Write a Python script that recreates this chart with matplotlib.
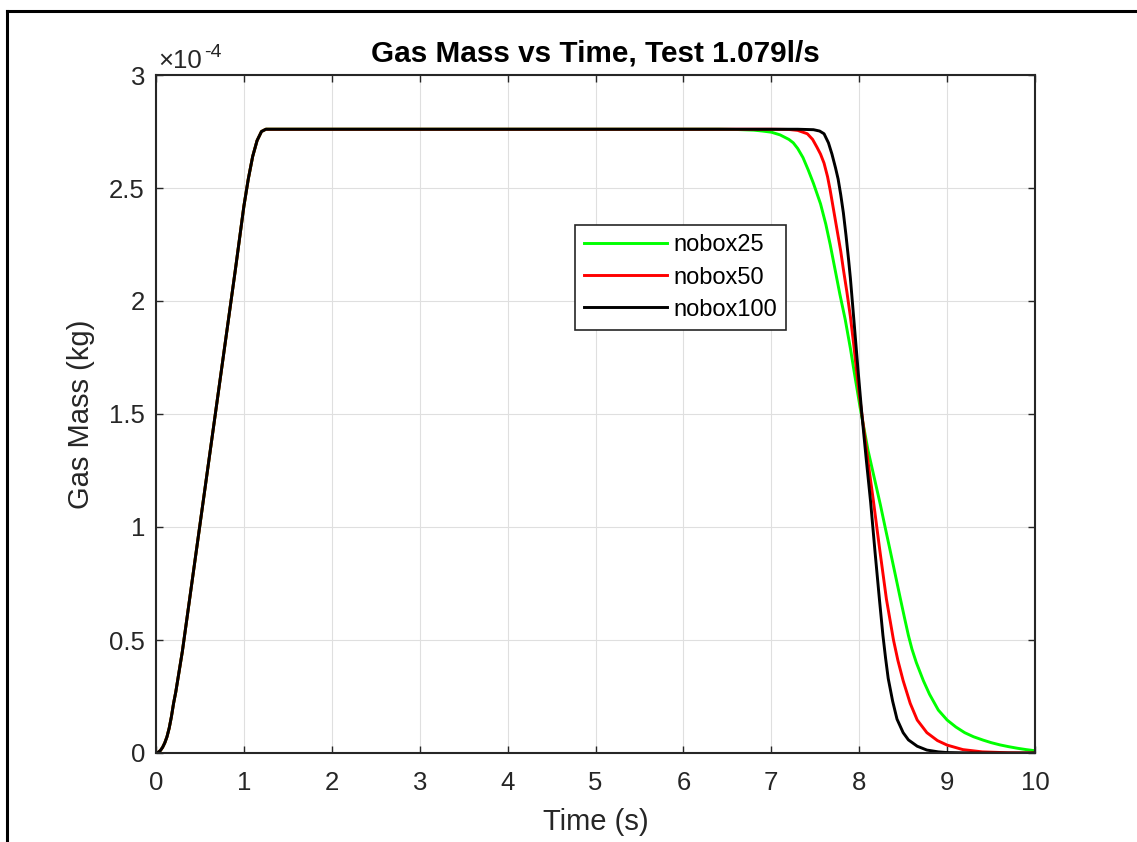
import matplotlib
matplotlib.use("Agg")
import matplotlib.pyplot as plt
from matplotlib.ticker import FuncFormatter, MultipleLocator
from matplotlib.lines import Line2D

plt.rcParams["font.family"] = ["Liberation Sans", "DejaVu Sans"]

# gas mass in units of 1e-4 kg
t_rise = [0, 0.025, 0.05, 0.075, 0.1, 0.125, 0.15, 0.175, 0.2, 0.225, 0.25,
          0.3, 0.35, 0.4, 0.5, 0.6, 0.7, 0.8, 0.9, 1.0, 1.05, 1.1, 1.15, 1.2,
          1.25, 1.3]
m_rise = [0, 0.003, 0.011, 0.025, 0.045, 0.072, 0.11, 0.16, 0.22, 0.27, 0.33,
          0.45, 0.59, 0.73, 1.01, 1.29, 1.57, 1.85, 2.13, 2.42, 2.54, 2.64,
          2.71, 2.75, 2.76, 2.76]

t_fall_25 = [6.4, 6.6, 6.8, 6.9, 7.0, 7.1, 7.2, 7.25, 7.3, 7.36, 7.42, 7.48,
             7.56, 7.62, 7.67, 7.72, 7.78, 7.84, 7.9, 7.95, 8.01, 8.1, 8.17,
             8.24, 8.3, 8.35, 8.41, 8.47, 8.52, 8.56, 8.6, 8.65, 8.73, 8.8, 8.9,
             9.0, 9.1, 9.2, 9.3, 9.41, 9.5, 9.6, 9.7, 9.8, 9.9, 10.0]
m_fall_25 = [2.76, 2.759, 2.756, 2.752, 2.747, 2.735, 2.715, 2.70, 2.675, 2.635,
             2.58, 2.52, 2.43, 2.34, 2.25, 2.15, 2.03, 1.92, 1.79, 1.67, 1.53,
             1.34, 1.22, 1.10, 0.99, 0.90, 0.79, 0.68, 0.59, 0.52, 0.46, 0.40,
             0.32, 0.26, 0.19, 0.146, 0.115, 0.09, 0.072, 0.057, 0.046, 0.036,
             0.028, 0.021, 0.015, 0.01]

t_fall_50 = [7.0, 7.2, 7.3, 7.41, 7.47, 7.52, 7.56, 7.6, 7.64, 7.67, 7.71, 7.75,
             7.79, 7.82, 7.86, 7.9, 7.94, 7.97, 8.0, 8.03, 8.1, 8.16, 8.23, 8.31,
             8.35, 8.39, 8.44, 8.5, 8.58, 8.66, 8.77, 8.89, 9.0, 9.18, 9.4, 9.7,
             10.0]
m_fall_50 = [2.76, 2.759, 2.755, 2.74, 2.715, 2.68, 2.65, 2.61, 2.55, 2.49, 2.40,
             2.31, 2.22, 2.14, 2.04, 1.93, 1.80, 1.69, 1.59, 1.50, 1.29, 1.12,
             0.91, 0.68, 0.59, 0.50, 0.41, 0.32, 0.22, 0.146, 0.09, 0.055, 0.035,
             0.015, 0.005, 0.001, 0.0]

t_fall_100 = [7.3, 7.48, 7.55, 7.6, 7.65, 7.69, 7.73, 7.76, 7.79, 7.82, 7.85,
              7.88, 7.9, 7.93, 7.96, 7.99, 8.03, 8.08, 8.13, 8.18, 8.23, 8.27,
              8.3, 8.33, 8.38, 8.43, 8.5, 8.56, 8.66, 8.77, 8.9, 9.0, 9.3, 10.0]
m_fall_100 = [2.76, 2.758, 2.752, 2.74, 2.70, 2.65, 2.59, 2.54, 2.47, 2.39, 2.29,
              2.18, 2.10, 1.96, 1.82, 1.68, 1.50, 1.30, 1.11, 0.89, 0.68, 0.52,
              0.42, 0.33, 0.23, 0.15, 0.09, 0.058, 0.03, 0.013, 0.005, 0.002, 0.0,
              0.0]

series = [
    ("nobox25", "#00ff00", t_fall_25, m_fall_25),
    ("nobox50", "#ff0000", t_fall_50, m_fall_50),
    ("nobox100", "#000000", t_fall_100, m_fall_100),
]

fig = plt.figure(figsize=(11.37, 8.42), dpi=100)
ax = fig.add_axes([156 / 1137, 1 - 753 / 842, 879 / 1137, 678 / 842])

for name, color, tf, mf in series:
    t = t_rise + tf
    m = [v * 1e-4 for v in m_rise + mf]
    ax.plot(t, m, color=color, lw=2.1, label=name)

dark = "#262626"
ax.set_xlim(0, 10)
ax.set_ylim(0, 3e-4)
ax.xaxis.set_major_locator(MultipleLocator(1))
ax.yaxis.set_major_locator(MultipleLocator(0.5e-4))
ax.yaxis.set_major_formatter(FuncFormatter(lambda v, p: "%g" % round(v * 1e4, 3)))
ax.grid(True, color="#dfdfdf", lw=0.8)
ax.set_axisbelow(True)
ax.tick_params(direction="in", length=5, width=1, labelsize=18.5, colors=dark,
               top=True, right=True)
ax.tick_params(axis="x", pad=13)
ax.tick_params(axis="y", pad=8)
for s in ax.spines.values():
    s.set_color(dark)
    s.set_linewidth(1.5)

# MATLAB style exponent label above the y axis
fig.text(158 / 1137, 1 - 68 / 842, "\u00d710", fontsize=18.5, color=dark,
         ha="left", va="baseline")
fig.text(204 / 1137, 1 - 57 / 842, "-4", fontsize=14, color=dark,
         ha="left", va="baseline")

ax.set_xlabel("Time (s)", fontsize=21, color=dark, labelpad=9)
ax.set_ylabel("Gas Mass (kg)", fontsize=21, color=dark, labelpad=10)
ax.set_title("Gas Mass vs Time, Test 1.079l/s", fontsize=21.4, fontweight="bold",
             pad=10)

leg = ax.legend(loc="upper left", bbox_to_anchor=(0.4767, 0.7788),
                borderaxespad=0, fontsize=17, fancybox=False, framealpha=1,
                edgecolor=dark, handlelength=3.5, handletextpad=0.25,
                labelspacing=0.43, borderpad=0.4)
leg.get_frame().set_linewidth(1.2)

# figure frame
fig.add_artist(Line2D([7 / 1137, 7 / 1137], [0, 1 - 11 / 842],
                      transform=fig.transFigure, color="black", lw=2.2))
fig.add_artist(Line2D([7 / 1137, 1], [1 - 11 / 842, 1 - 11 / 842],
                      transform=fig.transFigure, color="black", lw=2.2))

fig.savefig("out.png", dpi=100)
